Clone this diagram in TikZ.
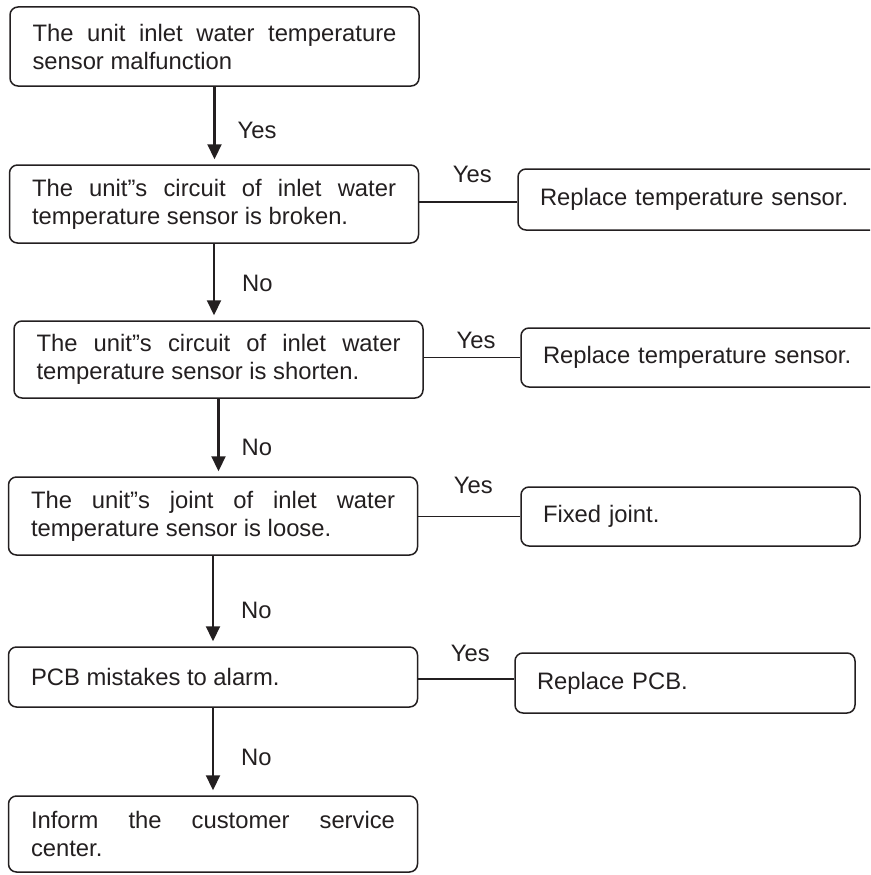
\documentclass[tikz,border=0pt]{standalone}
\usepackage{fontspec}
\setmainfont{Liberation Sans}
\usetikzlibrary{arrows.meta}
\definecolor{ink}{HTML}{231F20}
\begin{document}
\begin{tikzpicture}[x=1pt,y=-1pt,
  boxbase/.style={draw=ink, line width=1.5pt, rounded corners=8pt, inner sep=0pt, text=ink,
    font={\fontsize{23.8}{28}\selectfont\tolerance=10000\hyphenpenalty=10000\exhyphenpenalty=10000}},
  lbox/.style={boxbase, text width=364pt, align=justify, minimum width=409pt},
  rbox/.style={boxbase, align=left},
  arr/.style={draw=ink, line width=2.2pt, -{Triangle[length=15pt,width=14pt]}, shorten >=5pt},
  link/.style={draw=ink, line width=1.3pt},
  lbl/.style={inner sep=0pt, text=ink, font=\fontsize{23.8}{28}\selectfont}
]
\useasboundingbox (0,0) rectangle (870,875);
\clip (0,0) rectangle (870,875);

% left column
\node[lbox, minimum height=79pt] (b1) at (214.5,46.5) {The unit inlet water temperature sensor malfunction};
\node[lbox, minimum height=78pt] (b2) at (214,204) {The unit”s circuit of inlet water temperature sensor is broken.};
\node[lbox, minimum height=77pt] (b3) at (218.5,359.5) {The unit”s circuit of inlet water temperature sensor is shorten.};
\node[lbox, minimum height=78pt] (b4) at (213,516) {The unit”s joint of inlet water temperature sensor is loose.};
\node[lbox, minimum height=60pt] (b5) at (213,677) {PCB mistakes to alarm.};
\node[lbox, minimum height=76pt] (b6) at (213,834) {Inform the customer service\linebreak center.};

% right column
\node[rbox, minimum width=367pt, minimum height=61pt, text width=323pt] (r1) at (701.5,199.5) {Replace temperature sensor.};
\node[rbox, minimum width=364pt, minimum height=59pt, text width=320pt] (r2) at (703,357.5) {Replace temperature sensor.};
\node[rbox, minimum width=339pt, minimum height=59pt, text width=295pt] (r3) at (690.5,516.5) {Fixed joint.};
\node[rbox, minimum width=340pt, minimum height=60pt, text width=296pt] (r4) at (685,683) {Replace PCB.};

% vertical arrows
\draw[arr] (b1.south) -- (b1.south |- b2.north) node[lbl, pos=0.56, right, xshift=22pt] (y1) {Yes};
\draw[arr] (b2.south) -- (b2.south |- b3.north) node[lbl, pos=0.52, right, xshift=27pt] (n1) {No};
\draw[arr] (b3.south) -- (b3.south |- b4.north) node[lbl, pos=0.63, right, xshift=22pt] (n2) {No};
\draw[arr] (b4.south) -- (b4.south |- b5.north) node[lbl, pos=0.6, right, xshift=27pt] (n3) {No};
\draw[arr] (b5.south) -- (b5.south |- b6.north) node[lbl, pos=0.57, right, xshift=27pt] (n4) {No};

% horizontal links
\draw[link] (b2.east |- r1.west) ++(0,2.5) coordinate (c1) -- (c1 -| r1.west) node[lbl, pos=0.5, above, xshift=4pt, yshift=19pt] (y2) {Yes};
\draw[link] (b3.east |- r2.west) -- (r2.west) node[lbl, pos=0.5, above, xshift=4pt, yshift=8pt] (y3) {Yes};
\draw[link] (b4.east |- r3.west) -- (r3.west) node[lbl, pos=0.5, above, xshift=4pt, yshift=22pt] (y4) {Yes};
\draw[link] (b5.east |- r4.west) ++(0,-4) coordinate (c4) -- (c4 -| r4.west) node[lbl, pos=0.5, above, xshift=4pt, yshift=17pt] (y5) {Yes};
\end{tikzpicture}
\end{document}
